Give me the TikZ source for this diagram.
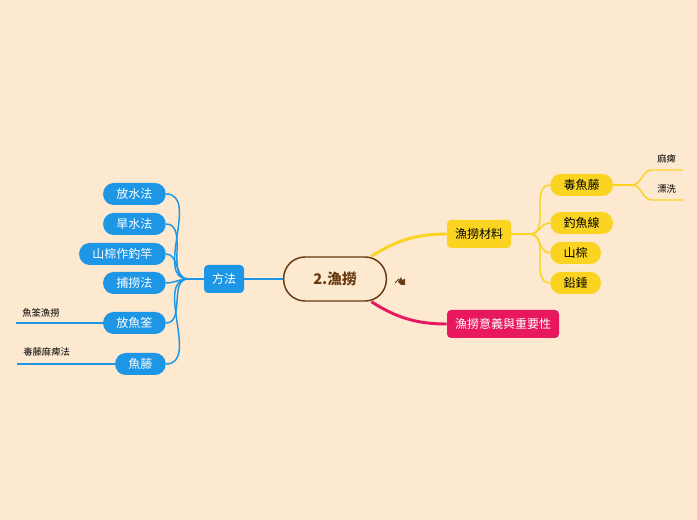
\documentclass[tikz,border=0pt]{standalone}
\usepackage{fontspec}
\newfontfamily\cjk{Noto Sans CJK TC}
\usepackage{tikz}
\usetikzlibrary{positioning,calc}
\definecolor{BgPeach}{RGB}{253,232,208}
\definecolor{SkyBlue}{RGB}{30,150,230}
\definecolor{SunYellow}{RGB}{250,212,32}
\definecolor{HotPink}{RGB}{232,24,96}
\definecolor{NutBrown}{RGB}{104,58,18}

\begin{document}
\begin{tikzpicture}[x=0.75pt,y=-0.75pt,font=\cjk,
    pillb/.style={fill=SkyBlue,text=white,rounded corners=8pt,
                  minimum height=16.5pt,inner xsep=10pt,font=\cjk\fontsize{9}{10}\selectfont},
    pilly/.style={fill=SunYellow,text=black,rounded corners=8pt,
                  minimum height=16.5pt,inner xsep=10pt,font=\cjk\fontsize{9}{10}\selectfont},
    topic/.style={rounded corners=3pt,minimum height=21pt,inner xsep=6pt,
                  font=\cjk\fontsize{9}{10}\selectfont},
    note/.style={anchor=west,inner sep=0pt,font=\cjk\fontsize{7}{8}\selectfont},
    bline/.style={SkyBlue,line width=1.1pt},
    yline/.style={SunYellow,line width=1.1pt}]

    \fill[BgPeach] (0,0) rectangle (697,520);
    \useasboundingbox (0,0) rectangle (697,520);

    % centre
    \node[draw=NutBrown,line width=1.1pt,fill=BgPeach,rounded corners=16pt,
          minimum width=77pt,minimum height=33pt,text=NutBrown,
          font=\cjk\bfseries\fontsize{11}{12}\selectfont] (ctr) at (335,279) {2.漁撈};
    \fill[NutBrown] (398,282) -- (401,277) -- (402,280) -- (405,279) -- (405,285)
      -- (401,285) -- cycle;
    \draw[NutBrown,line width=0.6pt] (395,283) -- (399,279);

    % main topics
    \node[topic,fill=SkyBlue,text=white] (fangfa) at (224,279) {方法};
    \node[topic,fill=SunYellow,text=black] (cailiao) at (479,234) {漁撈材料};
    \node[topic,fill=HotPink,text=white] (yiyi) at (503,324) {漁撈意義與重要性};

    % methods
    \node[pillb,anchor=east] (f1) at (166,194) {放水法};
    \node[pillb,anchor=east] (f2) at (166,224) {旱水法};
    \node[pillb,anchor=east] (f3) at (166,254) {山棕作釣竿};
    \node[pillb,anchor=east] (f4) at (166,283) {捕撈法};
    \node[pillb,anchor=east] (f5) at (166,323) {放魚筌};
    \node[pillb,anchor=east] (f6) at (166,364) {魚藤};

    % materials
    \node[pilly,anchor=west] (m1) at (550,185) {毒魚藤};
    \node[pilly,anchor=west] (m2) at (550,223) {釣魚線};
    \node[pilly,anchor=west] (m3) at (550,253) {山棕};
    \node[pilly,anchor=west] (m4) at (550,283) {鉛錘};

    % notes
    \node[note] (n1) at (22,313) {魚筌漁撈};
    \node[note] (n2) at (23,352) {毒藤麻痺法};
    \node[note] (n3) at (657,159) {麻痺};
    \node[note] (n4) at (657,189) {漂洗};

    \coordinate (jf) at (188,279);
    \coordinate (jc) at (530,234);
    \coordinate (jd) at (632,185);
    \coordinate (g1) at (16,323);
    \coordinate (g2) at (17,364);
    \coordinate (k1) at (652,170);
    \coordinate (k2) at (652,200);
    \coordinate (e1) at (683,170);
    \coordinate (e2) at (683,200);

    % branches
    \draw[SkyBlue,line width=2pt] (ctr.west) -- (fangfa.east);
    \draw[SunYellow,line width=2.2pt] (ctr.32) .. controls +(25,-16) and +(-30,0) .. (cailiao.west);
    \draw[HotPink,line width=2.2pt] (ctr.-32) .. controls +(25,16) and +(-30,0) .. (yiyi.west);

    \draw[bline] (fangfa.west) -- (jf);
    \foreach \c in {f1,f2,f3,f4,f5,f6} { \draw[bline] (jf) to[out=180,in=0] (\c.east); }
    \draw[bline] (f5.west) -- (g1);
    \draw[bline] (f6.west) -- (g2);

    \draw[yline] (cailiao.east) -- (jc);
    \foreach \c in {m1,m2,m3,m4} { \draw[yline] (jc) to[out=0,in=180] (\c.west); }
    \draw[yline] (m1.east) -- (jd);
    \draw[yline] (jd) to[out=0,in=180] (k1) -- (e1);
    \draw[yline] (jd) to[out=0,in=180] (k2) -- (e2);
  \end{tikzpicture}
\end{document}
